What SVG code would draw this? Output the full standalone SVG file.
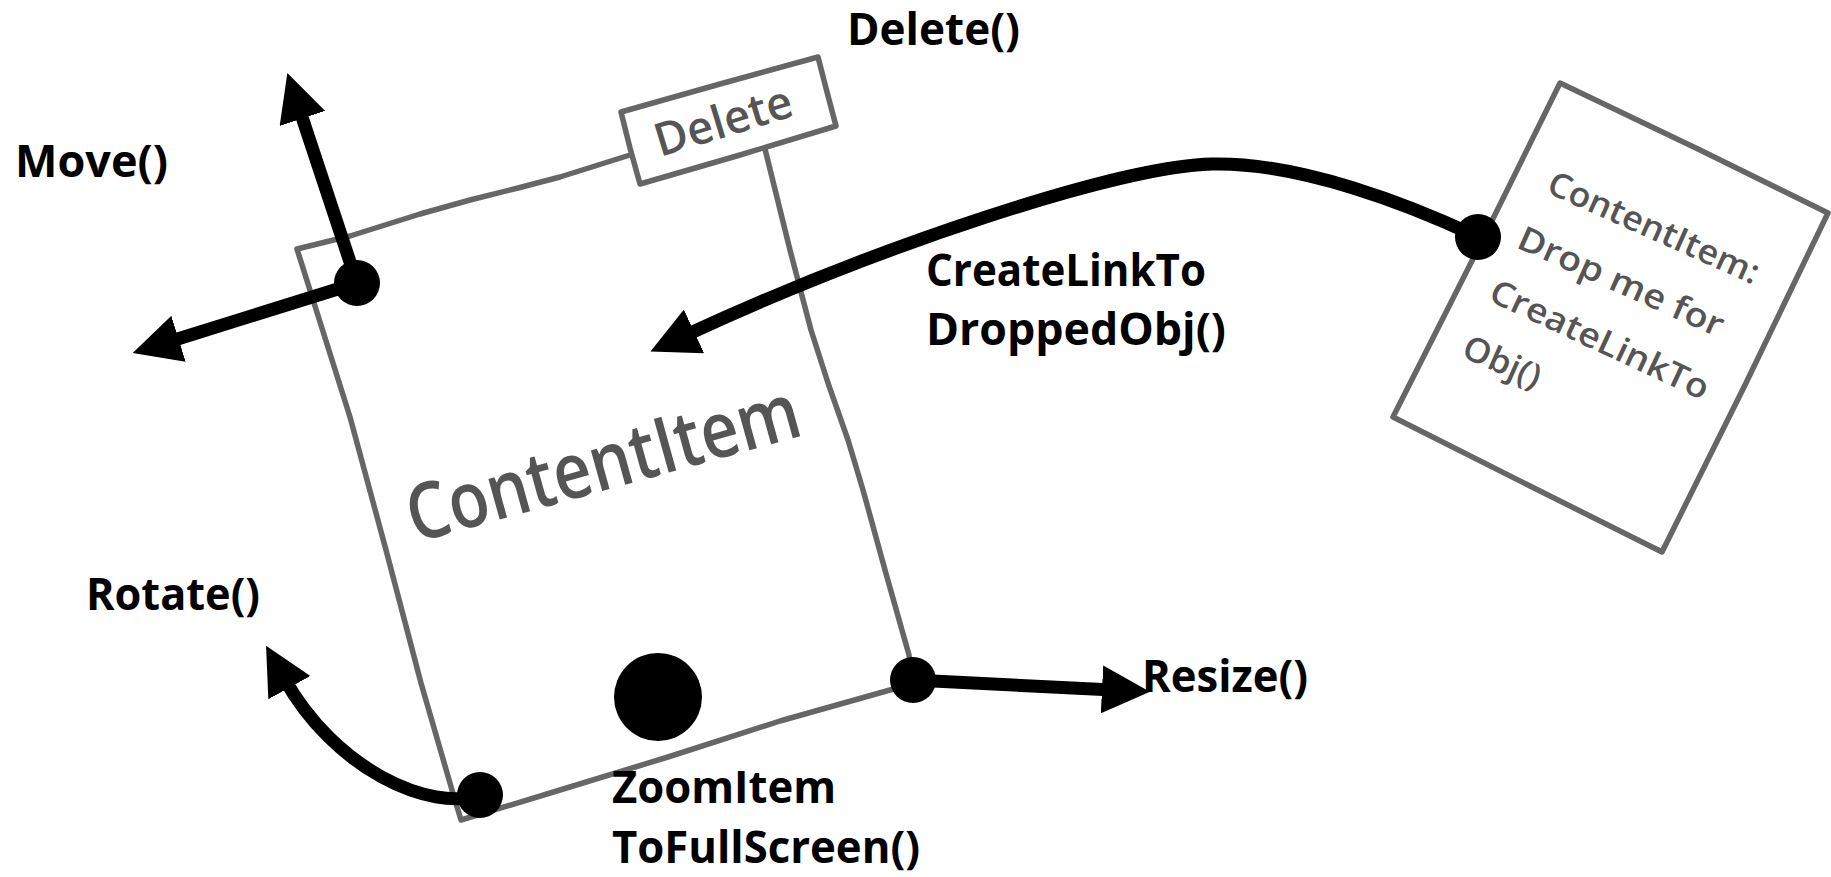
<svg xmlns="http://www.w3.org/2000/svg" width="1831" height="877" viewBox="0 0 1831 877">
  <style>
    .sketch { fill: none; stroke: #666666; stroke-width: 5.5; stroke-linejoin: round; stroke-linecap: round; }
    .hand { font-family: "Open Sans", "DejaVu Sans", sans-serif; font-weight: 600; fill: #555555; }
    .label { font-family: "Open Sans", "Liberation Sans", sans-serif; font-weight: 700; font-size: 44px; fill: #000000; }
    .wire { fill: none; stroke: #000000; stroke-width: 13; stroke-linecap: butt; marker-end: url(#ah); }
    .dot { fill: #000000; }
  </style>
  <defs>
    <marker id="ah" markerUnits="userSpaceOnUse" viewBox="0 0 48 48" markerWidth="48" markerHeight="48" refX="11" refY="24" orient="auto">
      <path d="M0,0 L48,24 L0,48 Z" fill="#000000"/>
    </marker>
  </defs>

  <rect width="1831" height="877" fill="#ffffff"/>

  <!-- main sketched item frame -->
  <g id="content-item">
    <path class="sketch" d="M630,155 L560,177 L518,188 L470,200 L420,214 L350,236 L297,249 L350,417 L386,550 L421,683 L452,790 L461,820 L560,790 L668,757 L780,721 L890,690 L912,684 L909,655 L885,570 L863,490 L848,440 L828,383 L811,330 L790,250 L765,149"/>
    <text class="hand" font-size="78" textLength="405" lengthAdjust="spacingAndGlyphs" transform="translate(415,543) rotate(-15.5)">ContentItem</text>
  </g>

  <!-- delete tab on the frame -->
  <g id="delete-tab">
    <path class="sketch" stroke-width="6" fill="#ffffff" d="M621,112 L720,84 L818,57 L827,92 L836,126 L740,155 L640,184 L630,148 Z"/>
    <text class="hand" font-size="46" fill="#3a4350" textLength="142" lengthAdjust="spacingAndGlyphs" transform="translate(660,157) rotate(-17)">Delete</text>
  </g>

  <!-- dropped note card -->
  <g id="drop-card">
    <path class="sketch" stroke-width="6" d="M1560,83 L1700,150 L1828,213 L1745,385 L1662,552 L1530,486 L1393,417 L1480,245 Z"/>
    <g class="hand" font-size="34">
      <text textLength="228" lengthAdjust="spacingAndGlyphs" transform="translate(1545,192) rotate(24)">ContentItem:</text>
      <text textLength="222" lengthAdjust="spacingAndGlyphs" transform="translate(1515,247) rotate(24)">Drop me for</text>
      <text textLength="238" lengthAdjust="spacingAndGlyphs" transform="translate(1487,300) rotate(25)">CreateLinkTo</text>
      <text textLength="82" lengthAdjust="spacingAndGlyphs" transform="translate(1460,356) rotate(24)">Obj()</text>
    </g>
  </g>

  <!-- handles and their arrows -->
  <g id="connectors">
    <path class="wire" d="M357,283 L299,108"/>
    <path class="wire" d="M357,283 L168,342"/>
    <path class="wire" d="M481,795 C430,812 335,770 284,678"/>
    <path class="wire" d="M913,680 L1113,690"/>
    <path class="wire" d="M1478,237 C1410,205 1300,162 1212,164 C1120,166 880,245 684,336"/>
  </g>

  <g id="handles">
    <circle class="dot" cx="357" cy="283" r="23"/>
    <circle class="dot" cx="480" cy="795" r="23"/>
    <circle class="dot" cx="658" cy="697" r="44"/>
    <circle class="dot" cx="913" cy="680" r="23"/>
    <circle class="dot" cx="1478" cy="237" r="23"/>
  </g>

  <!-- method labels -->
  <g id="labels">
    <text class="label" x="15" y="177" textLength="153" lengthAdjust="spacingAndGlyphs">Move()</text>
    <text class="label" x="847" y="45" textLength="173" lengthAdjust="spacingAndGlyphs">Delete()</text>
    <text class="label" x="926" y="286" textLength="280" lengthAdjust="spacingAndGlyphs">CreateLinkTo</text>
    <text class="label" x="926" y="345" textLength="300" lengthAdjust="spacingAndGlyphs">DroppedObj()</text>
    <text class="label" x="86" y="610" textLength="174" lengthAdjust="spacingAndGlyphs">Rotate()</text>
    <text class="label" x="1142" y="692" textLength="166" lengthAdjust="spacingAndGlyphs">Resize()</text>
    <text class="label" x="612" y="803" textLength="224" lengthAdjust="spacingAndGlyphs">ZoomItem</text>
    <text class="label" x="612" y="863" textLength="308" lengthAdjust="spacingAndGlyphs">ToFullScreen()</text>
  </g>
</svg>
